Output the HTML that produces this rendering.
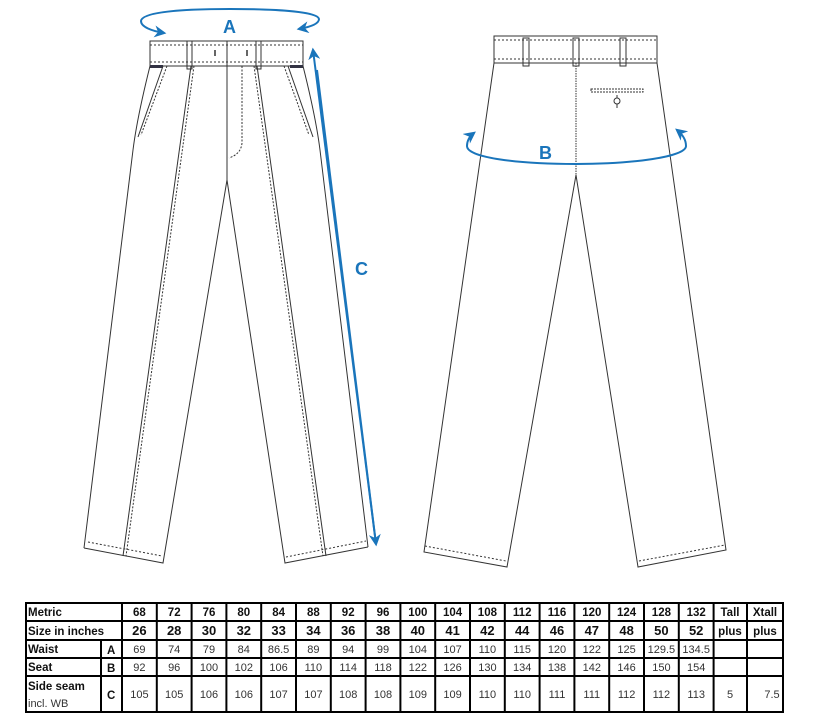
<!DOCTYPE html>
<html><head><meta charset="utf-8"><style>
html,body{margin:0;padding:0;background:#fff;}
svg{display:block;}
.b{font:bold 11.5px "Liberation Sans",sans-serif;fill:#111;}
.n{font:11px "Liberation Sans",sans-serif;fill:#333;}
.lb{font:bold 18px "Liberation Sans",sans-serif;fill:#1a75bb;}
</style></head><body>
<svg width="835" height="725" viewBox="0 0 835 725" xmlns="http://www.w3.org/2000/svg">
<defs>
<marker id="ah" viewBox="0 0 10 10" refX="8" refY="5" markerWidth="6" markerHeight="6" orient="auto"><path d="M0,0 L10,5 L0,10 L3,5 Z" fill="#1a75bb"/></marker>
</defs>
<g fill="none" stroke="#333" stroke-width="1">
<!-- FRONT -->
<rect x="150" y="41" width="153" height="25" fill="#fff"/>
<line x1="150" y1="45" x2="303" y2="45" stroke-dasharray="2,2"/>
<line x1="150" y1="62" x2="303" y2="62" stroke-dasharray="2,2"/>
<line x1="227" y1="41" x2="227" y2="158"/>
<rect x="187" y="41" width="5" height="28"/>
<rect x="256" y="41" width="5" height="28"/>
<line x1="215" y1="50" x2="215" y2="56" stroke-width="1.5"/>
<line x1="247" y1="50" x2="247" y2="56" stroke-width="1.5"/>
<rect x="150" y="65" width="13" height="3" fill="#334" stroke="none"/>
<rect x="290" y="65" width="13" height="3" fill="#334" stroke="none"/>
<path d="M150,66 Q137,118 133,150 L84,548"/>
<path d="M303,66 Q316,118 320,150 L368,547"/>
<line x1="167" y1="66" x2="141" y2="135" stroke-dasharray="2,1.5"/>
<line x1="163" y1="66" x2="138" y2="137"/>
<line x1="288" y1="66" x2="313" y2="137"/>
<line x1="284" y1="66" x2="309" y2="135" stroke-dasharray="2,1.5"/>
<path d="M242,66 L242,143 Q241,154 229,158" stroke-dasharray="2,1.5"/>
<line x1="227" y1="158" x2="227" y2="180"/>
<path d="M227,180 L163,563 L84,548"/>
<path d="M227,180 L285,563 L368,547"/>
<line x1="191" y1="66" x2="123" y2="556"/>
<line x1="194" y1="66" x2="126" y2="556" stroke-dasharray="2,1.5"/>
<line x1="257" y1="66" x2="326" y2="556"/>
<line x1="254" y1="66" x2="323" y2="556" stroke-dasharray="2,1.5"/>
<line x1="88" y1="542" x2="162" y2="556" stroke-dasharray="2,2"/>
<line x1="286" y1="557" x2="366" y2="541" stroke-dasharray="2,2"/>
<!-- BACK -->
<rect x="494" y="36" width="163" height="27" fill="#fff"/>
<line x1="494" y1="40" x2="657" y2="40" stroke-dasharray="2,2"/>
<line x1="494" y1="59" x2="657" y2="59" stroke-dasharray="2,2"/>
<rect x="523" y="38" width="6" height="28"/>
<rect x="573" y="38" width="6" height="28"/>
<rect x="620" y="38" width="6" height="28"/>
<line x1="576" y1="63" x2="576" y2="175" stroke-dasharray="1.5,1"/>
<path d="M494,63 L424,552 L507,567 L576,175 L638,567 L726,550 L657,63"/>
<line x1="425" y1="546" x2="506" y2="561" stroke-dasharray="2,2"/>
<line x1="639" y1="561" x2="725" y2="545" stroke-dasharray="2,2"/>
<rect x="591" y="89" width="52" height="3" stroke-dasharray="2,1"/>
<circle cx="617" cy="101" r="3"/>
<line x1="617" y1="95" x2="617" y2="98"/><line x1="617" y1="104" x2="617" y2="108"/>
</g>
<!-- Blue measurement arrows -->
<g fill="none" stroke="#1a75bb" stroke-width="2">
<path d="M230,9 C180,9 142,12 141,21 C141,27 152,31 164,33" marker-end="url(#ah)"/>
<path d="M230,9 C280,9 318,12 319,19 C319,24 310,27 299,29" marker-end="url(#ah)"/>
<line x1="317" y1="70" x2="376" y2="544" marker-end="url(#ah)"/>
<line x1="376" y1="544" x2="313" y2="50" marker-end="url(#ah)"/>
<path d="M576,164 C520,164 467,158 467,146 C467,140 470,136 474,133" marker-end="url(#ah)"/>
<path d="M576,164 C632,164 686,157 686,146 C686,139 682,134 677,130" marker-end="url(#ah)"/>
</g>
<text class="lb" x="223" y="33">A</text>
<text class="lb" x="355" y="275">C</text>
<text class="lb" x="539" y="159">B</text>
<!-- TABLE -->
<g stroke="#000" stroke-width="2" fill="none">
<rect x="26" y="603" width="757" height="109"/>
<line x1="26" y1="621" x2="783" y2="621"/>
<line x1="26" y1="640" x2="783" y2="640"/>
<line x1="26" y1="658" x2="783" y2="658"/>
<line x1="26" y1="676" x2="783" y2="676"/>
<line x1="101" y1="640" x2="101" y2="712"/>
<line x1="122" y1="603" x2="122" y2="712"/>
<line x1="156.8" y1="603" x2="156.8" y2="712"/><line x1="191.6" y1="603" x2="191.6" y2="712"/>
<line x1="226.4" y1="603" x2="226.4" y2="712"/><line x1="261.2" y1="603" x2="261.2" y2="712"/>
<line x1="296" y1="603" x2="296" y2="712"/><line x1="330.8" y1="603" x2="330.8" y2="712"/>
<line x1="365.6" y1="603" x2="365.6" y2="712"/><line x1="400.4" y1="603" x2="400.4" y2="712"/>
<line x1="435.2" y1="603" x2="435.2" y2="712"/><line x1="470" y1="603" x2="470" y2="712"/>
<line x1="504.8" y1="603" x2="504.8" y2="712"/><line x1="539.6" y1="603" x2="539.6" y2="712"/>
<line x1="574.4" y1="603" x2="574.4" y2="712"/><line x1="609.2" y1="603" x2="609.2" y2="712"/>
<line x1="644" y1="603" x2="644" y2="712"/><line x1="678.8" y1="603" x2="678.8" y2="712"/>
<line x1="713.6" y1="603" x2="713.6" y2="712"/><line x1="747" y1="603" x2="747" y2="712"/>
</g>
<text class="b" x="28" y="616">Metric</text>
<text class="b" x="28" y="635">Size in inches</text>
<text class="b" x="28" y="653">Waist</text>
<text class="b" x="28" y="671">Seat</text>
<text class="b" x="28" y="690">Side seam</text>
<text class="n" x="28" y="707" font-style="italic">incl. WB</text>
<text class="b" x="107" y="654" font-size="13">A</text>
<text class="b" x="107" y="672" font-size="13">B</text>
<text class="b" x="107" y="699" font-size="13">C</text>
<g class="b" text-anchor="middle">
<text x="139.4" y="616">68</text><text x="174.2" y="616">72</text><text x="209" y="616">76</text><text x="243.8" y="616">80</text><text x="278.6" y="616">84</text><text x="313.4" y="616">88</text><text x="348.2" y="616">92</text><text x="383" y="616">96</text><text x="417.8" y="616">100</text><text x="452.6" y="616">104</text><text x="487.4" y="616">108</text><text x="522.2" y="616">112</text><text x="557" y="616">116</text><text x="591.8" y="616">120</text><text x="626.6" y="616">124</text><text x="661.4" y="616">128</text><text x="696.2" y="616">132</text><text x="730" y="616">Tall</text><text x="765" y="616">Xtall</text>
<text x="139.4" y="635" font-size="13">26</text><text x="174.2" y="635" font-size="13">28</text><text x="209" y="635" font-size="13">30</text><text x="243.8" y="635" font-size="13">32</text><text x="278.6" y="635" font-size="13">33</text><text x="313.4" y="635" font-size="13">34</text><text x="348.2" y="635" font-size="13">36</text><text x="383" y="635" font-size="13">38</text><text x="417.8" y="635" font-size="13">40</text><text x="452.6" y="635" font-size="13">41</text><text x="487.4" y="635" font-size="13">42</text><text x="522.2" y="635" font-size="13">44</text><text x="557" y="635" font-size="13">46</text><text x="591.8" y="635" font-size="13">47</text><text x="626.6" y="635" font-size="13">48</text><text x="661.4" y="635" font-size="13">50</text><text x="696.2" y="635" font-size="13">52</text><text x="730" y="635">plus</text><text x="765" y="635">plus</text>
</g>
<g class="n" text-anchor="middle">
<text x="139.4" y="653">69</text><text x="174.2" y="653">74</text><text x="209" y="653">79</text><text x="243.8" y="653">84</text><text x="278.6" y="653">86.5</text><text x="313.4" y="653">89</text><text x="348.2" y="653">94</text><text x="383" y="653">99</text><text x="417.8" y="653">104</text><text x="452.6" y="653">107</text><text x="487.4" y="653">110</text><text x="522.2" y="653">115</text><text x="557" y="653">120</text><text x="591.8" y="653">122</text><text x="626.6" y="653">125</text><text x="661.4" y="653">129.5</text><text x="696.2" y="653">134.5</text>
<text x="139.4" y="671">92</text><text x="174.2" y="671">96</text><text x="209" y="671">100</text><text x="243.8" y="671">102</text><text x="278.6" y="671">106</text><text x="313.4" y="671">110</text><text x="348.2" y="671">114</text><text x="383" y="671">118</text><text x="417.8" y="671">122</text><text x="452.6" y="671">126</text><text x="487.4" y="671">130</text><text x="522.2" y="671">134</text><text x="557" y="671">138</text><text x="591.8" y="671">142</text><text x="626.6" y="671">146</text><text x="661.4" y="671">150</text><text x="696.2" y="671">154</text>
<text x="139.4" y="698">105</text><text x="174.2" y="698">105</text><text x="209" y="698">106</text><text x="243.8" y="698">106</text><text x="278.6" y="698">107</text><text x="313.4" y="698">107</text><text x="348.2" y="698">108</text><text x="383" y="698">108</text><text x="417.8" y="698">109</text><text x="452.6" y="698">109</text><text x="487.4" y="698">110</text><text x="522.2" y="698">110</text><text x="557" y="698">111</text><text x="591.8" y="698">111</text><text x="626.6" y="698">112</text><text x="661.4" y="698">112</text><text x="696.2" y="698">113</text><text x="730" y="698">5</text><text x="772" y="698">7.5</text>
</g>
</svg>
</body></html>
